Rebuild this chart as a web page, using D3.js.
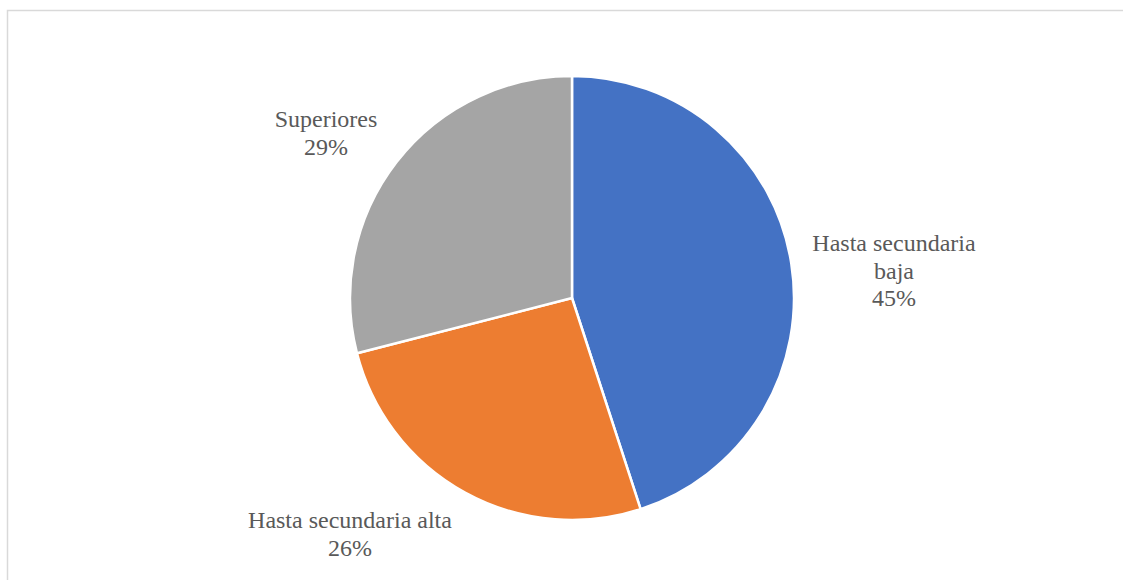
<!DOCTYPE html>
<html>
<head>
<meta charset="utf-8">
<script src="https://cdn.jsdelivr.net/npm/d3@7"></script>
<style>
  html, body { margin: 0; padding: 0; background: #fff; overflow: hidden; }
  svg { display: block; }
  .lbl { font-family: "Liberation Serif", "Times New Roman", Times, "DejaVu Serif", serif; font-size: 24px; fill: #595959; }
</style>
</head>
<body>
<svg id="chart" width="1123" height="580"></svg>
<script>
// Education level shares
const categories = ["Hasta secundaria baja", "Hasta secundaria alta", "Superiores"];
const shares = [45, 26, 29];
const colors = ["#4472C4", "#ED7D31", "#A5A5A5"];
// Label lines for each slice (category text wrapped, then percentage)
const labelLines = [["Hasta secundaria", "baja"], ["Hasta secundaria alta"], ["Superiores"]];

const svg = d3.select("#chart");

// Chart frame (only top and left edges fall inside the view)
svg.append("path")
  .attr("d", "M7.5,580 V10.5 H1123")
  .attr("fill", "none")
  .attr("stroke", "#D9D9D9")
  .attr("stroke-width", 1.5);

const cx = 572, cy = 298, radius = 222;

const data = categories.map((c, i) => ({ name: c, value: shares[i], color: colors[i], lines: labelLines[i] }));

const pie = d3.pie().value(d => d.value).sort(null);
const arc = d3.arc().innerRadius(0).outerRadius(radius);

const g = svg.append("g").attr("transform", `translate(${cx},${cy})`);
const arcs = pie(data);

g.selectAll("path.slice")
  .data(arcs)
  .join("path")
  .attr("class", "slice")
  .attr("d", arc)
  .attr("fill", d => d.data.color)
  .attr("stroke", "#fff")
  .attr("stroke-width", 2.5)
  .attr("stroke-linejoin", "round");

// Label anchor positions (centre x, first baseline y) placed around the pie
const labelPos = [
  { x: 894, y: 251 },
  { x: 350, y: 528 },
  { x: 326, y: 127 }
];
const lineGap = 27.5;

const labels = svg.append("g").attr("text-anchor", "middle");

arcs.forEach((a, i) => {
  const p = labelPos[i];
  const lines = a.data.lines.concat([d3.format(".0%")(a.data.value / 100)]);
  const t = labels.append("text").attr("class", "lbl").attr("x", p.x).attr("y", p.y);
  lines.forEach((ln, j) => {
    t.append("tspan").attr("x", p.x).attr("y", p.y + j * lineGap).text(ln);
  });
});
</script>
</body>
</html>
